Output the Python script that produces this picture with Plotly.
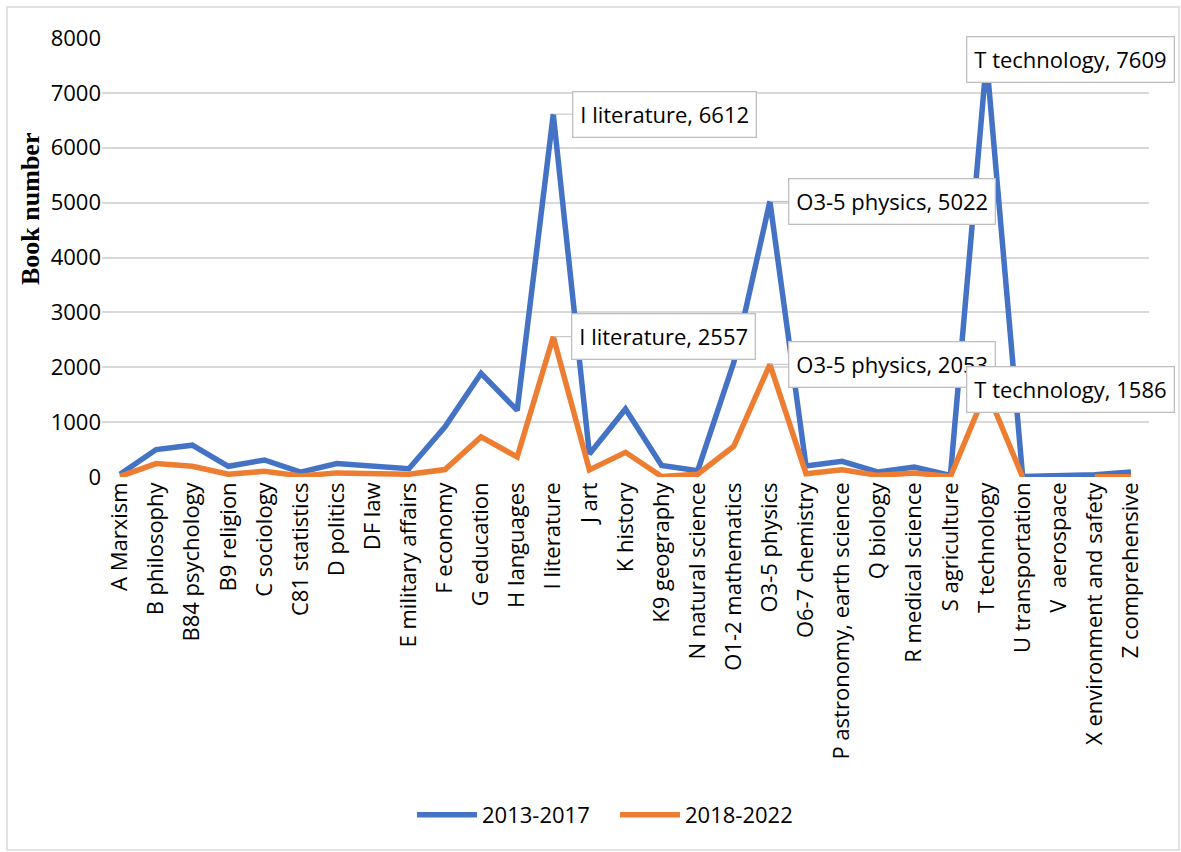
import plotly.graph_objects as go

categories = [
    "A Marxism", "B philosophy", "B84 psychology", "B9 religion", "C sociology",
    "C81 statistics", "D politics", "DF law", "E military affairs", "F economy",
    "G education", "H languages", "I literature", "J art", "K history",
    "K9 geography", "N natural science", "O1-2 mathematics", "O3-5 physics",
    "O6-7 chemistry", "P astronomy, earth science", "Q biology",
    "R medical science", "S agriculture", "T technology", "U transportation",
    "V  aerospace", "X environment and safety", "Z comprehensive",
]

books_2013_2017 = [
    50, 500, 580, 195, 310, 90, 245, 210, 150, 915,
    1890, 1215, 6612, 420, 1240, 212, 115, 2090, 5022,
    200, 285, 90, 180, 30, 7609, 10, 20, 40, 90,
]

books_2018_2022 = [
    10, 245, 195, 50, 105, 20, 75, 60, 50, 135,
    730, 365, 2557, 130, 450, 10, 50, 560, 2053,
    60, 133, 30, 73, 10, 1586, 0, None, 5, 5,
]

# callouts: (series, category, value, x offset in px)
callouts = [
    ("2013-2017", "I literature", 6612, 111),
    ("2013-2017", "O3-5 physics", 5022, 122),
    ("2013-2017", "T technology", 7609, 84),
    ("2018-2022", "I literature", 2557, 110),
    ("2018-2022", "O3-5 physics", 2053, 122),
    ("2018-2022", "T technology", 1586, 84),
]

BLUE = "#4472C4"
ORANGE = "#ED7D31"
TEXT_FONT = "Open Sans"

fig = go.Figure()
fig.add_trace(go.Scatter(
    x=categories, y=books_2013_2017, mode="lines", name="2013-2017",
    line=dict(color=BLUE, width=5.5), connectgaps=False,
))
fig.add_trace(go.Scatter(
    x=categories, y=books_2018_2022, mode="lines", name="2018-2022",
    line=dict(color=ORANGE, width=5.5), connectgaps=False,
))

for series, cat, val, dx in callouts:
    fig.add_annotation(
        x=cat, y=val, xref="x", yref="y",
        text=f"{cat}, {val}",
        showarrow=True, arrowhead=0, arrowwidth=1, arrowcolor="#bfbfbf",
        ax=dx, ay=0, axref="pixel", ayref="pixel",
        bgcolor="white", bordercolor="#bfbfbf", borderwidth=1.3, borderpad=7,
        font=dict(family=TEXT_FONT, size=22, color="black"),
    )

# y-axis title
fig.add_annotation(
    text="<b>Book number</b>", textangle=-90,
    xref="paper", yref="paper", x=-0.069, y=0.61,
    xanchor="center", yanchor="middle", showarrow=False,
    font=dict(family="Liberation Serif", size=26, color="black"),
)

# chart frame
fig.add_shape(
    type="rect", xref="paper", yref="paper",
    x0=(7 - 102) / 1047, x1=(1179 - 102) / 1047,
    y0=(477 - 850) / 439, y1=(477 - 7) / 439,
    line=dict(color="#d9d9d9", width=1.5), fillcolor="rgba(0,0,0,0)",
    layer="below",
)

fig.update_layout(
    width=1181, height=852,
    margin=dict(l=102, r=32, t=38, b=375),
    plot_bgcolor="white", paper_bgcolor="white",
    font=dict(family=TEXT_FONT, size=21, color="black"),
    showlegend=True,
    legend=dict(
        orientation="h", x=0.49, y=-0.77, xanchor="center", yanchor="middle",
        font=dict(family=TEXT_FONT, size=22, color="black"),
        entrywidth=128, itemwidth=60,
    ),
    xaxis=dict(
        type="category", tickangle=-90, showgrid=False, zeroline=False,
        showline=False, ticks="", tickfont=dict(family=TEXT_FONT, size=22),
        range=[-0.5, len(categories) - 0.5],
    ),
    yaxis=dict(
        range=[0, 8000], dtick=1000, showgrid=True, gridcolor="#d9d9d9",
        gridwidth=1.5, zeroline=False, showline=False, ticks="",
        tickfont=dict(family=TEXT_FONT, size=22),
    ),
)

fig.write_html("out.html")
